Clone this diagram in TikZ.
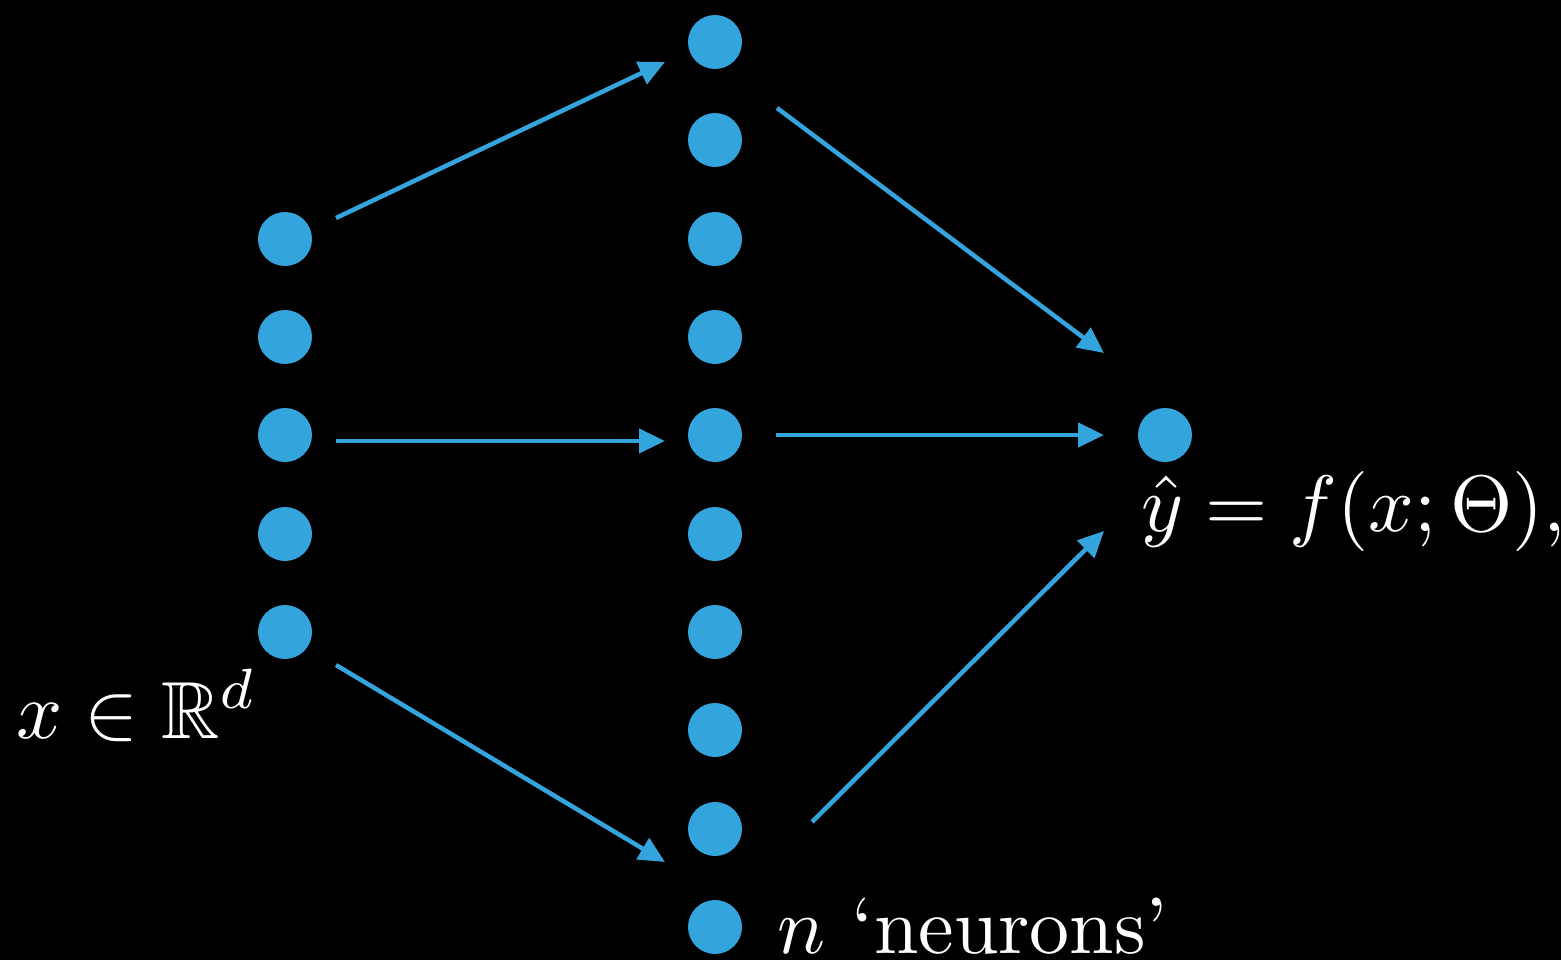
\RequirePackage{fix-cm}
\documentclass[tikz,border=0pt]{standalone}
\usepackage{amsmath,amssymb,graphicx}
\usetikzlibrary{arrows.meta}
\definecolor{nblue}{RGB}{52,164,220}
\begin{document}
\begin{tikzpicture}[x=1pt,y=-1pt,
  neuron/.style={circle,fill=nblue,draw=none,minimum size=54pt,inner sep=0pt},
  conn/.style={draw=nblue,line width=4.5pt,-{Triangle[length=26pt,width=24pt]}},
  lbl/.style={text=white,inner sep=0pt,anchor=base west,font=\fontsize{10}{12}\selectfont}]
\fill[black] (0,0) rectangle (1561,960);
\useasboundingbox (0,0) rectangle (1561,960);
% input layer
\foreach \i/\y in {1/239,2/337,3/435,4/534,5/632}
  \node[neuron] (i\i) at (285,\y) {};
% hidden layer
\foreach \i/\y in {1/42,2/140,3/239,4/337,5/435,6/534,7/632,8/730,9/829,10/927}
  \node[neuron] (h\i) at (715,\y) {};
% output
\node[neuron] (o) at (1165,435) {};
% arrow end points
\coordinate (a1s) at (336,218); \coordinate (a1e) at (665,62);
\coordinate (a2s) at (336,441); \coordinate (a2e) at (665,441);
\coordinate (a3s) at (336,665); \coordinate (a3e) at (665,862);
\coordinate (a4s) at (777,108); \coordinate (a4e) at (1104,353);
\coordinate (a5s) at (776,435); \coordinate (a5e) at (1104,435);
\coordinate (a6s) at (812,822); \coordinate (a6e) at (1104,531);
\foreach \k in {1,...,6} \draw[conn] (a\k s) -- (a\k e);
% labels
\node[lbl] (lx) at (16,738) {\scalebox{8.1}{$x\in\mathbb{R}^d$}};
\node[lbl] (ly) at (1141,531) {\scalebox{8.0}{$\hat{y}=f(x;\Theta),$}};
\node[lbl] (ln) at (777,953) {\scalebox{8.0}{$n$ `neurons'}};
\end{tikzpicture}
\end{document}
